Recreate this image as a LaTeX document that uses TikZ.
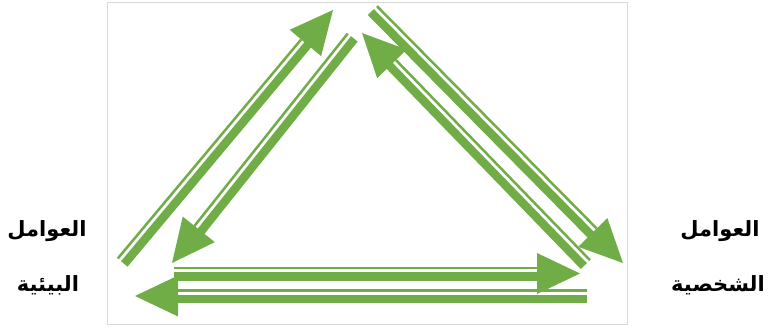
\documentclass[tikz,border=0pt]{standalone}
\usepackage{fontspec}
\usepackage{tikz}
\usetikzlibrary{calc}
\newfontfamily\arabicfont[Script=Arabic]{DejaVu Sans}
\TeXXeTstate=1
\definecolor{leaf}{HTML}{70AD47}
\definecolor{frame}{HTML}{D9D9D9}

% tail, tip, side of the thin rule (90 = left of travel, -90 = right)
\newcommand\flowarrow[3]{%
  \pgfmathsetmacro\flowopp{#3+180}%
  \fill[leaf] (#2) -- ($(#2)!43pt!(#1)!20.5pt!90:(#2)$)
    -- ($(#2)!43pt!(#1)!20.5pt!-90:(#2)$) -- cycle;
  \draw[flowbar] ($(#1)!3pt!\flowopp:(#2)$) -- ($(#2)!41pt!(#1)!3pt!\flowopp:(#2)$);
  \draw[flowrule] ($(#1)!5.5pt!#3:(#2)$) -- ($(#2)!43pt!(#1)!5.5pt!#3:(#2)$);
}

\begin{document}
\begin{tikzpicture}[x=1pt,y=-1pt,
  flowbar/.style={draw=leaf,line width=8.5pt},
  flowrule/.style={draw=leaf,line width=2.5pt},
  factor/.style={font=\arabicfont\bfseries\fontsize{21}{24}\selectfont,inner sep=0pt}]
  \useasboundingbox (0,0) rectangle (772,328);
  \draw[frame,line width=1pt] (107,3) rectangle (627,325);

  % left side
  \coordinate (lup0) at (122,262);  \coordinate (lup1) at (333,10);
  \coordinate (ldn0) at (352,37);   \coordinate (ldn1) at (172,263);
  % right side
  \coordinate (rdn0) at (373,10);   \coordinate (rdn1) at (623,263);
  \coordinate (rup0) at (586,264);  \coordinate (rup1) at (362,33);
  % bottom
  \coordinate (bri0) at (174,273.5); \coordinate (bri1) at (580,273.5);
  \coordinate (ble0) at (587,296);   \coordinate (ble1) at (135,296);

  \flowarrow{lup0}{lup1}{90}
  \flowarrow{ldn0}{ldn1}{-90}
  \flowarrow{rdn0}{rdn1}{90}
  \flowarrow{rup0}{rup1}{-90}
  \flowarrow{bri0}{bri1}{90}
  \flowarrow{ble0}{ble1}{-90}

  \node[factor] (envA) at (47,231) {\beginR العوامل\endR};
  \node[factor] (envB) at (48,285) {\beginR البيئية\endR};
  \node[factor] (persA) at (720,231) {\beginR العوامل\endR};
  \node[factor] (persB) at (718,285) {\beginR الشخصية\endR};
\end{tikzpicture}
\end{document}
